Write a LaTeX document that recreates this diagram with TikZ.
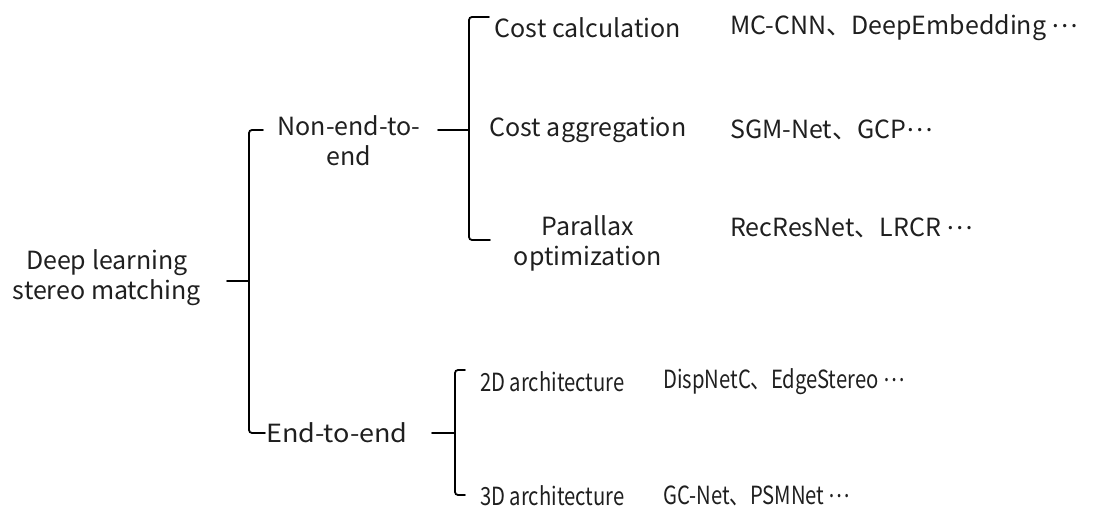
\documentclass[tikz,border=0pt]{standalone}
\usepackage{fontspec}
\setmainfont{Noto Sans CJK SC}
\newfontfamily\narrowfont[FakeStretch=0.81]{Noto Sans CJK SC}
\newfontfamily\widefont[FakeStretch=1.08]{Noto Sans CJK SC}
\newcommand{\lblfont}{\fontsize{25pt}{30pt}\selectfont}
\newcommand{\middots}{\raisebox{.3em}{…}}
\begin{document}
\begin{tikzpicture}[x=1pt,y=-1pt,
  lbl/.style={font=\lblfont, align=center, inner sep=0pt, text=black!88},
  lw/.style={lbl, anchor=west},
  nw/.style={lw, font=\narrowfont\lblfont},
  br/.style={line width=1.8pt, rounded corners=3pt, line cap=round}]
\useasboundingbox (0,0) rectangle (1102,510);
% texts
\node[lbl] (root) at (107,278) {Deep learning\\stereo matching};
\node[lbl] (ne) at (349,141) {Non-end-to-\\end};
\node[lw, font=\widefont\lblfont] (ee) at (266,433) {End-to-end};
\node[lbl] (cc) at (588,28) {Cost calculation};
\node[lbl] (ca) at (588,130) {Cost aggregation};
\node[lbl] (po) at (588,243) {Parallax\\optimization};
\node[nw] (a2) at (480,382) {2D architecture};
\node[nw] (a3) at (480,496) {3D architecture};
\node[lw] (m1) at (730,28) {MC-CNN、DeepEmbedding \middots};
\node[lw] (m2) at (730,130) {SGM-Net、GCP\middots};
\node[lw] (m3) at (730,228) {RecResNet、LRCR \middots};
\node[nw] (m4) at (663,382) {DispNetC、EdgeStereo \middots};
\node[nw] (m5) at (663,496) {GC-Net、PSMNet \middots};
% bracket coordinates
\coordinate (r0) at (227,281);
\coordinate (r1) at (249,281);
\coordinate (rt) at (263,130);
\coordinate (rb) at (265,433);
\coordinate (n0) at (438,130);
\coordinate (n1) at (469,130);
\coordinate (nt) at (489,17);
\coordinate (nb) at (490,240);
\coordinate (e0) at (432,433);
\coordinate (e1) at (455,433);
\coordinate (et) at (465,370);
\coordinate (eb) at (465,495);
% brackets
\draw[br] (r0) -- (r1);
\draw[br] (rt) -| (r1) |- (rb);
\draw[br] (n0) -- (n1);
\draw[br] (nt) -| (n1) |- (nb);
\draw[br] (e0) -- (e1);
\draw[br] (et) -| (e1) |- (eb);
\end{tikzpicture}
\end{document}
